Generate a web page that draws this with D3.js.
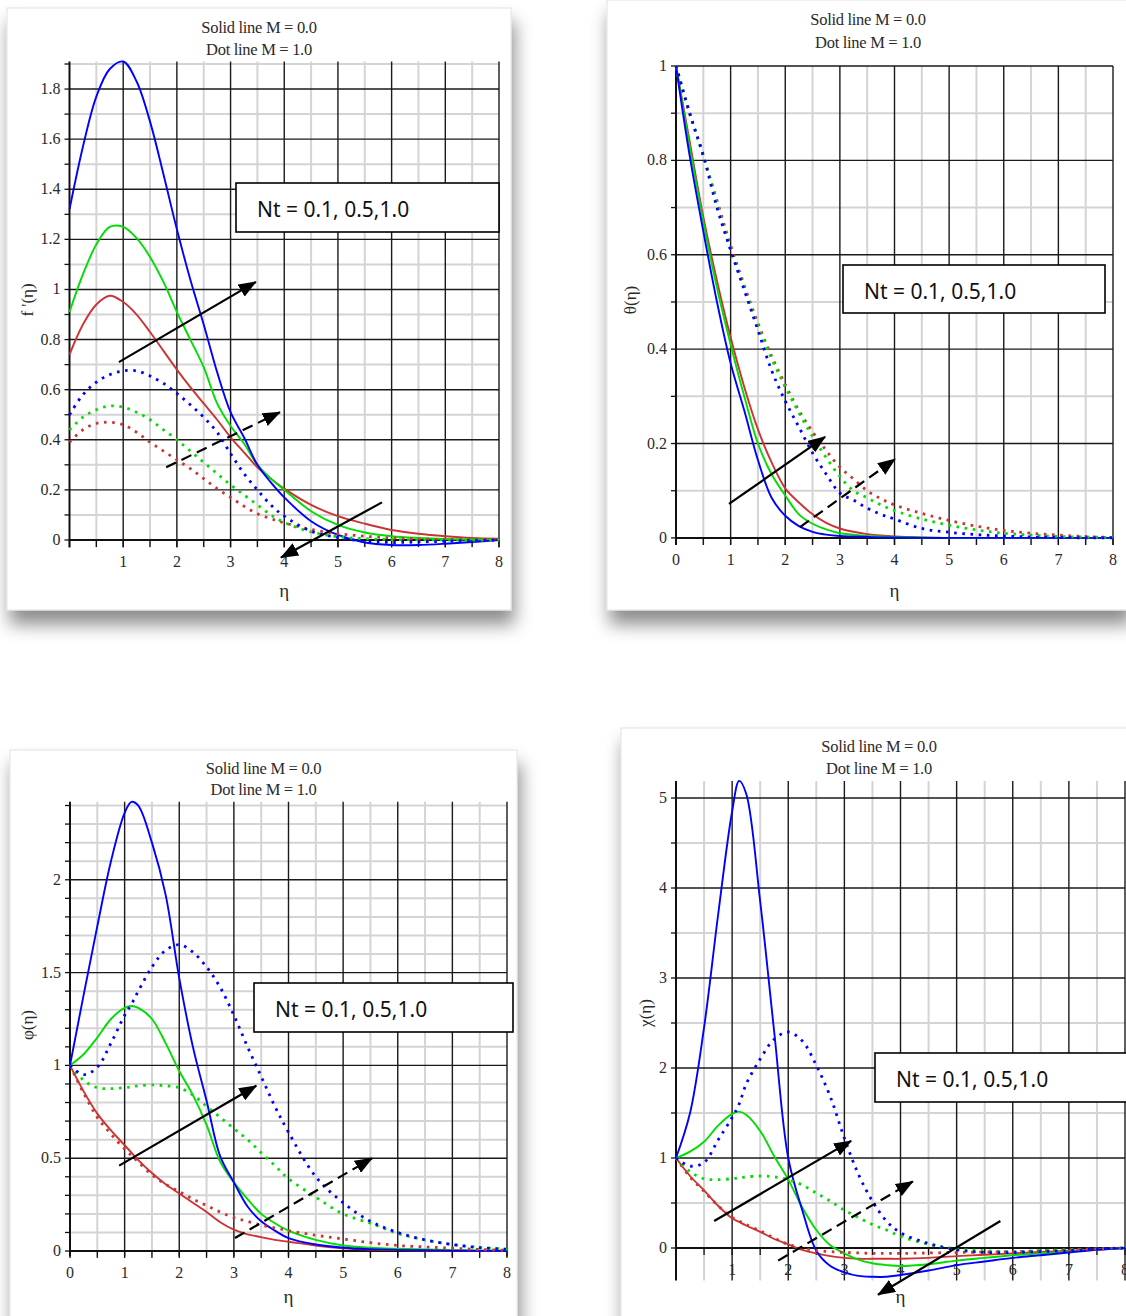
<!DOCTYPE html>
<html>
<head>
<meta charset="utf-8">
<script src="https://cdn.jsdelivr.net/npm/d3@7"></script>
<style>
  body { margin: 0; background: #fff; }
  text { font-family: "Liberation Serif", "DejaVu Serif", serif; fill: #2a2a2a; }
  .note { font-family: "Noto Sans", "Open Sans", sans-serif; fill: #111; }
</style>
</head>
<body>
<svg id="fig" width="1126" height="1316"></svg>
<script>
// eta sample points
const etaA = [0,0.25,0.5,0.75,1,1.25,1.5,1.75,2,2.25,2.5,2.75,3,3.25,3.5,3.75,4,4.5,5,5.5,6,6.5,7,7.5,8];
const etaB = [0,0.25,0.5,0.75,1,1.125,1.25,1.5,1.75,2,2.25,2.5,2.75,3,3.25,3.5,3.75,4,4.5,5,5.5,6,6.5,7,7.5,8];

// f'(eta)  (etaA)
const fBlueM0  = [1.32,1.57,1.77,1.88,1.91,1.83,1.67,1.46,1.24,1.04,0.86,0.67,0.51,0.41,0.30,0.23,0.17,0.075,0.02,-0.01,-0.02,-0.02,-0.015,-0.008,0];
const fGreenM0 = [0.91,1.06,1.18,1.25,1.25,1.205,1.13,1.03,0.91,0.80,0.69,0.545,0.455,0.385,0.30,0.245,0.20,0.115,0.06,0.03,0.015,0.008,0.004,0.002,0];
const fRedM0   = [0.74,0.86,0.94,0.975,0.95,0.90,0.83,0.755,0.68,0.61,0.545,0.48,0.41,0.35,0.29,0.245,0.205,0.14,0.095,0.065,0.04,0.025,0.015,0.008,0.005];
const fBlueM1  = [0.50,0.58,0.63,0.66,0.675,0.675,0.655,0.625,0.585,0.54,0.49,0.43,0.345,0.265,0.20,0.14,0.095,0.035,0.01,-0.005,-0.01,-0.008,-0.005,-0.002,0];
const fGreenM1 = [0.44,0.49,0.52,0.535,0.53,0.51,0.48,0.44,0.40,0.355,0.31,0.265,0.22,0.18,0.14,0.10,0.07,0.032,0.013,0.005,0.002,0.001,0,0,0];
const fRedM1   = [0.39,0.44,0.465,0.47,0.46,0.43,0.39,0.355,0.32,0.285,0.245,0.205,0.17,0.135,0.105,0.085,0.068,0.042,0.025,0.015,0.008,0.004,0.002,0.001,0];

// theta(eta)  (etaA)
const tBlueM0  = [1.0,0.81,0.65,0.50,0.37,0.27,0.165,0.085,0.047,0.025,0.013,0.007,0.004,0.003,0.002,0.001,0.001,0,0,0,0,0,0,0,0];
const tGreenM0 = [1.0,0.83,0.67,0.53,0.41,0.30,0.20,0.135,0.09,0.05,0.03,0.018,0.01,0.007,0.004,0.003,0.002,0.001,0,0,0,0,0,0,0];
const tRedM0   = [1.0,0.84,0.68,0.545,0.425,0.32,0.23,0.16,0.105,0.075,0.05,0.032,0.02,0.013,0.008,0.005,0.003,0.001,0,0,0,0,0,0,0];
const tBlueM1  = [1.0,0.90,0.81,0.70,0.61,0.525,0.44,0.355,0.29,0.235,0.18,0.135,0.095,0.08,0.063,0.05,0.04,0.02,0.012,0.007,0.004,0.002,0.001,0,0];
const tGreenM1 = [1.0,0.90,0.81,0.71,0.61,0.53,0.45,0.38,0.32,0.265,0.215,0.17,0.13,0.10,0.085,0.07,0.058,0.04,0.027,0.017,0.01,0.006,0.003,0.002,0.001];
const tRedM1   = [1.0,0.90,0.81,0.715,0.62,0.535,0.455,0.385,0.325,0.27,0.225,0.185,0.15,0.125,0.10,0.083,0.07,0.052,0.037,0.025,0.016,0.01,0.006,0.003,0.001];

// phi(eta)  (etaB)
const pBlueM0  = [1.0,1.38,1.75,2.10,2.36,2.42,2.40,2.20,1.92,1.47,1.10,0.81,0.51,0.37,0.24,0.16,0.11,0.07,0.035,0.018,0.01,0.006,0.004,0.002,0.001,0];
const pGreenM0 = [1.0,1.06,1.15,1.25,1.31,1.32,1.31,1.25,1.12,0.97,0.84,0.68,0.48,0.37,0.28,0.20,0.15,0.11,0.06,0.03,0.018,0.012,0.008,0.005,0.003,0.002];
const pRedM0   = [1.0,0.86,0.74,0.65,0.57,0.53,0.49,0.42,0.36,0.31,0.26,0.21,0.155,0.115,0.09,0.075,0.06,0.05,0.03,0.015,0.008,0.005,0.003,0.002,0.001,0];
const pBlueM1  = [1.0,0.95,0.99,1.12,1.27,1.33,1.40,1.53,1.62,1.65,1.61,1.53,1.42,1.27,1.10,0.94,0.78,0.64,0.40,0.26,0.16,0.10,0.06,0.035,0.018,0.01];
const pGreenM1 = [1.0,0.92,0.88,0.875,0.88,0.885,0.89,0.895,0.89,0.88,0.84,0.78,0.72,0.66,0.60,0.53,0.46,0.39,0.29,0.20,0.15,0.095,0.06,0.035,0.02,0.01];
const pRedM1   = [1.0,0.85,0.72,0.63,0.55,0.515,0.48,0.41,0.36,0.32,0.28,0.245,0.21,0.18,0.16,0.14,0.125,0.11,0.085,0.065,0.045,0.03,0.022,0.015,0.008,0.004];

// chi(eta)  (etaB)
const cBlueM0  = [1.0,1.5,2.45,3.7,4.85,5.19,5.05,3.85,2.4,1.0,0.42,-0.03,-0.2,-0.27,-0.31,-0.32,-0.32,-0.30,-0.25,-0.19,-0.15,-0.11,-0.08,-0.05,-0.02,0];
const cGreenM0 = [1.0,1.07,1.18,1.36,1.49,1.515,1.48,1.30,1.02,0.76,0.45,0.2,0.03,-0.06,-0.13,-0.17,-0.19,-0.2,-0.18,-0.14,-0.11,-0.08,-0.06,-0.04,-0.02,0];
const cRedM0   = [1.0,0.8,0.64,0.47,0.33,0.29,0.25,0.18,0.1,0.04,-0.02,-0.06,-0.09,-0.11,-0.12,-0.12,-0.12,-0.12,-0.11,-0.09,-0.075,-0.06,-0.045,-0.03,-0.015,0];
const cBlueM1  = [1.0,0.91,0.95,1.2,1.45,1.6,1.82,2.1,2.32,2.4,2.3,2.03,1.68,1.22,0.82,0.52,0.3,0.17,0.05,-0.02,-0.05,-0.05,-0.04,-0.03,-0.01,0];
const cGreenM1 = [1.0,0.85,0.77,0.76,0.77,0.78,0.79,0.80,0.79,0.76,0.70,0.61,0.52,0.42,0.34,0.26,0.2,0.13,0.04,-0.01,-0.03,-0.04,-0.03,-0.02,-0.01,0];
const cRedM1   = [1.0,0.79,0.63,0.47,0.34,0.3,0.26,0.19,0.11,0.04,0.0,-0.03,-0.04,-0.05,-0.055,-0.06,-0.06,-0.06,-0.055,-0.05,-0.045,-0.04,-0.03,-0.02,-0.01,0];

// tick labels
const fTicks = [0,0.2,0.4,0.6,0.8,1,1.2,1.4,1.6,1.8];
const thetaTicks = [0,0.2,0.4,0.6,0.8,1];
const phiTicks = [0,0.5,1,1.5,2];
const chiTicks = [0,1,2,3,4,5];
const etaTicks = [0,1,2,3,4,5,6,7,8];
const etaTicksNoZero = [1,2,3,4,5,6,7,8];

const titleLines = ["Solid line M = 0.0", "Dot line M = 1.0"];
const noteText = "Nt = 0.1, 0.5,1.0";

const BLUE = "#0000ff", GREEN = "#00dd00", RED = "#cc3333";

const panels = [
  { ylab: "f '(η)", card: [7, 8, 504, 602], xr: [69.5, 499], yd: [-0.03, 1.91], yr: [547.5, 61.5],
    major: 0.2, minor: 0.1, yTicks: fTicks, xTicks: etaTicksNoZero, titleY: [33, 55], ylabPos: [33, 300],
    xlabY: 597, eta: etaA,
    series: [[fRedM0, RED, 0], [fGreenM0, GREEN, 0], [fBlueM0, BLUE, 0], [fRedM1, RED, 1], [fGreenM1, GREEN, 1], [fBlueM1, BLUE, 1]],
    box: [236, 183, 263, 49],
    arrows: [[0.92, 0.71, 3.47, 1.03, 0], [1.8, 0.29, 3.92, 0.51, 1], [5.82, 0.15, 3.94, -0.07, 0]] },
  { ylab: "θ(η)", card: [607, 0, 522, 610], xr: [676, 1113], yd: [-0.015, 1], yr: [545, 66],
    major: 0.2, minor: 0.1, yTicks: thetaTicks, xTicks: etaTicks, titleY: [25, 48], ylabPos: [636, 300],
    xlabY: 597, eta: etaA,
    series: [[tRedM0, RED, 0], [tGreenM0, GREEN, 0], [tBlueM0, BLUE, 0], [tRedM1, RED, 1], [tGreenM1, GREEN, 1], [tBlueM1, BLUE, 1]],
    box: [843, 265, 262, 48],
    arrows: [[0.97, 0.072, 2.73, 0.214, 0], [2.27, 0.023, 4.01, 0.167, 1]] },
  { ylab: "φ(η)", card: [10, 750, 507, 580], xr: [70, 507], yd: [-0.03, 2.42], yr: [1256.6, 801.8],
    major: 0.5, minor: 0.1, yTicks: phiTicks, xTicks: etaTicks, titleY: [774, 795], ylabPos: [33, 1025],
    xlabY: 1303, eta: etaB,
    series: [[pRedM0, RED, 0], [pGreenM0, GREEN, 0], [pBlueM0, BLUE, 0], [pRedM1, RED, 1], [pGreenM1, GREEN, 1], [pBlueM1, BLUE, 1]],
    box: [254, 983, 259, 49],
    arrows: [[0.9, 0.46, 3.41, 0.89, 0], [3.02, 0.07, 5.53, 0.50, 1]] },
  { ylab: "χ(η)", card: [621, 728, 516, 600], xr: [676, 1125], yd: [-0.36, 5.19], yr: [1280.4, 780.9],
    major: 1, minor: 0.5, yTicks: chiTicks, xTicks: etaTicksNoZero, titleY: [752, 774], ylabPos: [651, 1013],
    xlabY: 1303, eta: etaB,
    series: [[cRedM0, RED, 0], [cGreenM0, GREEN, 0], [cBlueM0, BLUE, 0], [cRedM1, RED, 1], [cGreenM1, GREEN, 1], [cBlueM1, BLUE, 1]],
    box: [875, 1053, 260, 49],
    arrows: [[0.68, 0.3, 3.12, 1.19, 0], [1.82, -0.14, 4.22, 0.74, 1], [5.78, 0.3, 3.6, -0.52, 0]] }
];

const svg = d3.select("#fig");
const defs = svg.append("defs");
const sh = defs.append("filter").attr("id", "shadow")
  .attr("x", "-10%").attr("y", "-10%").attr("width", "125%").attr("height", "130%");
sh.append("feDropShadow").attr("dx", 3).attr("dy", 14).attr("stdDeviation", 9)
  .attr("flood-color", "#000").attr("flood-opacity", 0.45);
defs.append("marker").attr("id", "head")
  .attr("viewBox", "0 0 18 14").attr("refX", 17).attr("refY", 7)
  .attr("markerWidth", 18).attr("markerHeight", 14)
  .attr("markerUnits", "userSpaceOnUse").attr("orient", "auto")
  .append("path").attr("d", "M0,0 L18,7 L0,14 Z").attr("fill", "#000");

function near(a, b) { return Math.abs(a - b) < 1e-6; }

panels.forEach(p => {
  const g = svg.append("g");
  const [cx, cy, cw, ch] = p.card;
  g.append("rect").attr("x", cx).attr("y", cy).attr("width", cw).attr("height", ch)
    .attr("fill", "#fff").attr("stroke", "#e2e2e2").attr("filter", "url(#shadow)");

  const x = d3.scaleLinear().domain([0, 8]).range(p.xr);
  const y = d3.scaleLinear().domain(p.yd).range(p.yr);
  const [y0, y1] = p.yd;

  // grid values
  const minorY = d3.range(Math.ceil(y0 / p.minor), Math.floor(y1 / p.minor + 1e-6) + 1).map(k => +(k * p.minor).toFixed(4));
  const majorY = minorY.filter(v => near(v / p.major, Math.round(v / p.major)) && v !== 0);
  const lightY = minorY.filter(v => !near(v / p.major, Math.round(v / p.major)));
  const lightX = d3.range(0.5, 8, 1);
  const majorX = d3.range(1, 9, 1);

  const grid = g.append("g");
  grid.selectAll(".lx").data(lightX).join("line")
    .attr("x1", d => x(d)).attr("x2", d => x(d)).attr("y1", y(y0)).attr("y2", y(y1))
    .attr("stroke", "#d4d4d4").attr("stroke-width", 2);
  grid.selectAll(".ly").data(lightY).join("line")
    .attr("x1", x(0)).attr("x2", x(8)).attr("y1", d => y(d)).attr("y2", d => y(d))
    .attr("stroke", "#d4d4d4").attr("stroke-width", 2);
  grid.selectAll(".mx").data(majorX).join("line")
    .attr("x1", d => x(d)).attr("x2", d => x(d)).attr("y1", y(y0)).attr("y2", y(y1))
    .attr("stroke", "#1a1a1a").attr("stroke-width", 1.4);
  grid.selectAll(".my").data(majorY).join("line")
    .attr("x1", x(0)).attr("x2", x(8)).attr("y1", d => y(d)).attr("y2", d => y(d))
    .attr("stroke", "#1a1a1a").attr("stroke-width", 1.4);

  // axes
  g.append("line").attr("x1", x(0)).attr("x2", x(8)).attr("y1", y(0)).attr("y2", y(0))
    .attr("stroke", "#111").attr("stroke-width", 2);
  g.append("line").attr("x1", x(0)).attr("x2", x(0)).attr("y1", y(y0)).attr("y2", y(y1))
    .attr("stroke", "#111").attr("stroke-width", 2);
  g.selectAll(".ty").data(minorY).join("line")
    .attr("x1", x(0) - 5).attr("x2", x(0)).attr("y1", d => y(d)).attr("y2", d => y(d))
    .attr("stroke", "#111").attr("stroke-width", 1.3);
  g.selectAll(".tx").data(d3.range(0, 8.01, 0.5)).join("line")
    .attr("x1", d => x(d)).attr("x2", d => x(d)).attr("y1", y(0)).attr("y2", y(0) + 7)
    .attr("stroke", "#111").attr("stroke-width", 1.3);

  // tick labels
  g.selectAll(".yl").data(p.yTicks).join("text")
    .attr("x", x(0) - 9).attr("y", d => y(d) + 5).attr("text-anchor", "end")
    .attr("font-size", 16).text(d => String(d));
  g.selectAll(".xl").data(p.xTicks).join("text")
    .attr("x", d => x(d)).attr("y", y(0) + 27).attr("text-anchor", "middle")
    .attr("font-size", 16).text(d => String(d));

  // titles
  const midCard = cx + cw / 2;
  titleLines.forEach((t, i) => {
    g.append("text").attr("x", midCard).attr("y", p.titleY[i]).attr("text-anchor", "middle")
      .attr("font-size", 16.5).attr("letter-spacing", -0.3).text(t);
  });
  g.append("text").attr("x", (p.xr[0] + p.xr[1]) / 2).attr("y", p.xlabY)
    .attr("text-anchor", "middle").attr("font-size", 19).text("η");
  g.append("text").attr("transform", `translate(${p.ylabPos[0]},${p.ylabPos[1]}) rotate(-90)`)
    .attr("text-anchor", "middle").attr("font-size", 17).text(p.ylab);

  // curves
  const line = d3.line().x((d, i) => x(p.eta[i])).y(d => y(d)).curve(d3.curveCatmullRom.alpha(0.5));
  g.selectAll(".curve").data(p.series).join("path")
    .attr("d", d => line(d[0]))
    .attr("fill", "none")
    .attr("stroke", d => d[1])
    .attr("stroke-width", d => d[2] ? 2.8 : 1.9)
    .attr("stroke-dasharray", d => d[2] ? "2.6,5.6" : null);

  // arrows
  g.selectAll(".arr").data(p.arrows).join("line")
    .attr("x1", d => x(d[0])).attr("y1", d => y(d[1]))
    .attr("x2", d => x(d[2])).attr("y2", d => y(d[3]))
    .attr("stroke", "#000").attr("stroke-width", 2.2)
    .attr("stroke-dasharray", d => d[4] ? "11,6" : null)
    .attr("marker-end", "url(#head)");

  // annotation box
  const [bx, by, bw, bh] = p.box;
  g.append("rect").attr("x", bx).attr("y", by).attr("width", bw).attr("height", bh)
    .attr("fill", "#fff").attr("stroke", "#000").attr("stroke-width", 1.6);
  g.append("text").attr("class", "note").attr("x", bx + 21).attr("y", by + 34)
    .attr("font-size", 21).text(noteText);
});
</script>
</body>
</html>
